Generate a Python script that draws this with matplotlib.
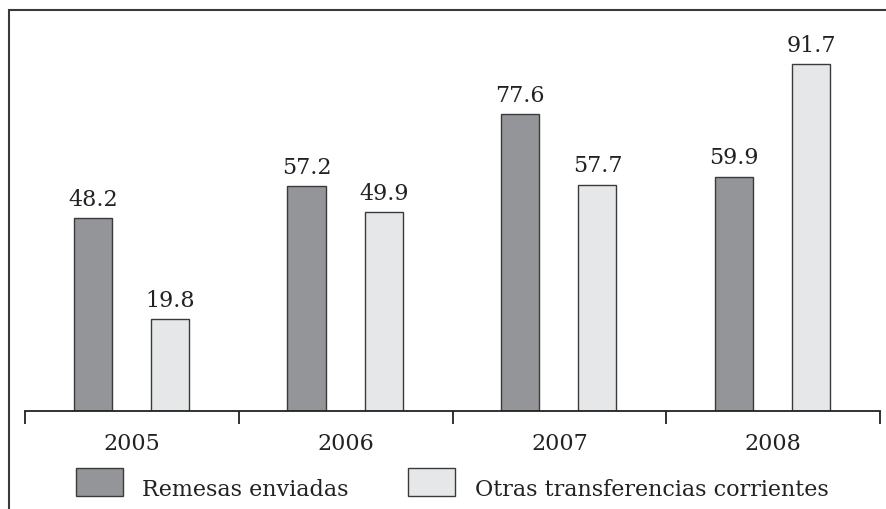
import matplotlib.pyplot as plt
from matplotlib.patches import Rectangle

# Data
years = ["2005", "2006", "2007", "2008"]
remesas = [48.2, 57.2, 77.6, 59.9]
otras = [19.8, 49.9, 57.7, 91.7]
series_names = ["Remesas enviadas", "Otras transferencias corrientes"]

dark = "#939598"
light = "#e6e7e8"
edge = "#3a3a3a"
txt = "#222222"

plt.rcParams['font.family'] = ['DejaVu Serif']

W, H = 886, 510
fig = plt.figure(figsize=(8.86, 5.10), dpi=100)
ax = fig.add_axes([25 / W, 98 / H, 855 / W, 401 / H])

ymin = -6.15
x = list(range(len(years)))
w = 0.178
b1 = ax.bar([i - 0.183 for i in x], [v - ymin for v in remesas], w, bottom=ymin,
            color=dark, edgecolor=edge, linewidth=1.0)
b2 = ax.bar([i + 0.178 for i in x], [v - ymin for v in otras], w, bottom=ymin,
            color=light, edgecolor=edge, linewidth=1.0)

ax.bar_label(b1, labels=[f"{v:.1f}" for v in remesas], padding=6, fontsize=16, color=txt)
ax.bar_label(b2, labels=[f"{v:.1f}" for v in otras], padding=6, fontsize=16, color=txt)

ax.set_xlim(-0.5, 3.5)
ax.set_ylim(ymin, 106.9)

for s in ["top", "right", "left"]:
    ax.spines[s].set_visible(False)
ax.spines["bottom"].set_linewidth(1.3)
ax.spines["bottom"].set_color(txt)

ax.set_yticks([])
ax.set_xticks([-0.5, 0.5, 1.5, 2.5, 3.5])
ax.set_xticklabels([])
ax.tick_params(axis="x", which="major", length=9.5, width=1.3, color=txt)
ax.set_xticks(x, minor=True)
ax.set_xticklabels(years, minor=True, fontsize=16, color=txt)
ax.tick_params(axis="x", which="minor", length=0, pad=15)

# legend drawn by hand: swatch boxes and labels
swatches = [(76, dark), (408, light)]
text_x = [142, 475]
for (sx, col), tx, name in zip(swatches, text_x, series_names):
    fig.add_artist(Rectangle((sx / W, 1 - 497 / H), 47 / W, 28 / H, transform=fig.transFigure,
                             facecolor=col, edgecolor=edge, linewidth=1.0))
    fig.text(tx / W, 1 - 496 / H, name, fontsize=16, color=txt, va="baseline", ha="left")

# outer frame (only left and top fall inside the image)
fig.add_artist(Rectangle((8.5 / W, -0.2), 2.0, 1.2 - 11 / H, transform=fig.transFigure,
                         fill=False, edgecolor="#3a3a3a", linewidth=1.5))

fig.savefig("out.png", dpi=100)
